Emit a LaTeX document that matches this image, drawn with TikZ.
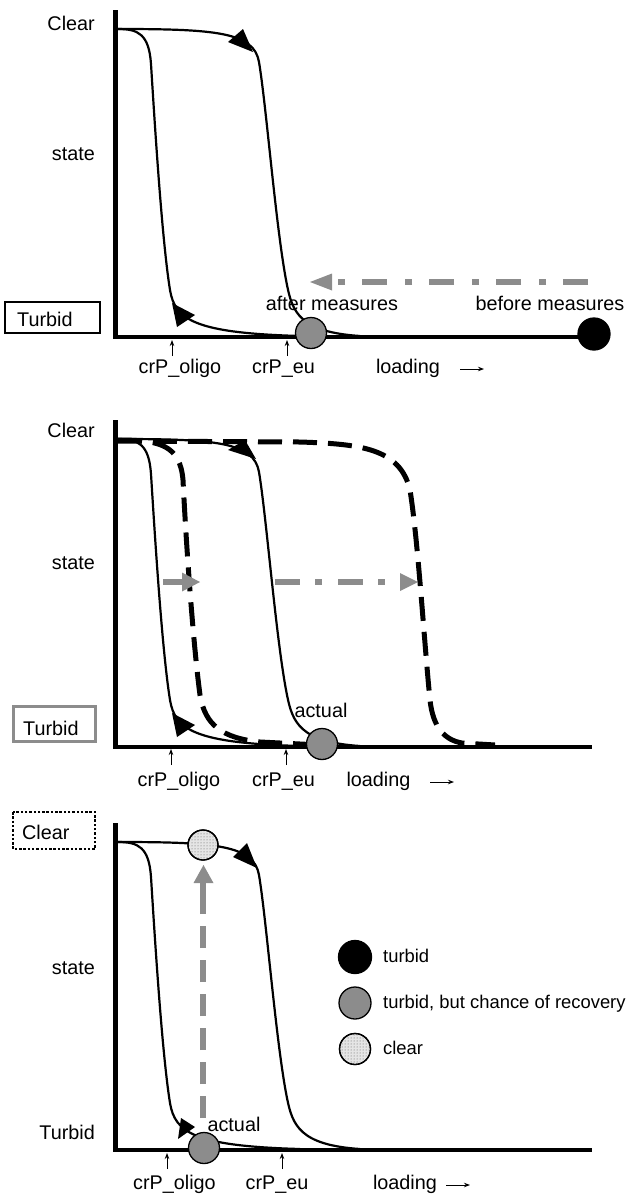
\documentclass[tikz,border=0pt]{standalone}
\usepackage{fontspec}
\setmainfont{Liberation Sans}
\usetikzlibrary{patterns,arrows.meta}
\definecolor{mgray}{RGB}{140,140,140}
\begin{document}
\begin{tikzpicture}[x=1pt,y=-1pt,
  font=\fontsize{19.8}{22}\selectfont,
  axisline/.style={line width=4.5pt},
  curveline/.style={line width=2.2pt},
  dcurve/.style={line width=5pt, dash pattern=on 24pt off 11pt},
  garrow/.style={draw=mgray, line width=5.5pt},
  dashdot/.style={garrow, dash pattern=on 25pt off 17pt on 7pt off 18pt},
  tickarrow/.style={line width=0.9pt, -{Stealth[length=6pt,width=4.5pt]}},
  dotnode/.style={circle, draw=black, line width=1.3pt, minimum size=31pt, inner sep=0pt},
  lbl/.style={inner sep=0pt, anchor=base},
  lbe/.style={inner sep=0pt, anchor=base east},
  lbw/.style={inner sep=0pt, anchor=base west},
  legend/.style={inner sep=0pt, anchor=base west, font=\fontsize{18.4}{21}\selectfont}
]
\useasboundingbox (0,0) rectangle (628,1197);

% ---------- common axes and curves ----------
\foreach \off in {0,410,813}{
  \begin{scope}[shift={(0,\off)}]
    \draw[curveline] (118,29) .. controls (138,29) and (149,34) .. (151,64)
       .. controls (155,128) and (162,240) .. (170,290)
       .. controls (175,320) and (195,333) .. (300,336);
    \draw[curveline] (118,29) .. controls (215,29) and (254,32) .. (259,62)
       .. controls (266.5,107) and (276,230) .. (287,285)
       .. controls (292.5,312.5) and (300,332) .. (360,336);
    \draw[axisline] (115.5,10) -- (115.5,337) -- (592,337);
  \end{scope}
}

% ================= Panel 1 =================
\node[lbe] (clear1) at (95,30) {Clear};
\node[lbe] (state1) at (95,160) {state};
\draw[line width=1.2pt] (5,302) rectangle (100,333);
\node[lbw] (turbid1) at (17,326) {Turbid};
\fill (253,52) -- (228,42) -- (243,29) -- cycle;
\fill (172,303) -- (177,327) -- (195,315) -- cycle;
\coordinate (p1from) at (588,282);
\coordinate (p1to) at (332,282);
\draw[dashdot] (p1from) -- (p1to);
\fill[mgray] (310,282) -- (332,273.5) -- (332,290.5) -- cycle;
\node[lbl] (after) at (332,310) {after measures};
\node[lbl] (before) at (550,310) {before measures};
\node[dotnode, fill=mgray] (g1) at (311,333) {};
\node[dotnode, fill=black, minimum size=32pt] (b1) at (594,334) {};
\coordinate (t1a) at (172,356); \coordinate (t1b) at (172,340);
\coordinate (t1c) at (287,356); \coordinate (t1d) at (287,340);
\draw[tickarrow] (t1a) -- (t1b);
\draw[tickarrow] (t1c) -- (t1d);
\node[lbl] (oligo1) at (180,373.5) {crP\_oligo};
\node[lbl] (eu1) at (283.5,373.5) {crP\_eu};
\node[lbl] (load1) at (408,373.5) {loading};
\coordinate (la1) at (460,369); \coordinate (lb1) at (484,369);
\draw[tickarrow] (la1) -- (lb1);

% ================= Panel 2 =================
\node[lbe] (clear2) at (95,437) {Clear};
\node[lbe] (state2) at (95,569) {state};
\draw[draw=mgray, line width=3pt] (13,706) rectangle (95,741);
\node[lbw] (turbid2) at (23,735) {Turbid};
% dashed curves
\draw[dcurve] (118,440) .. controls (160,440) and (180,445) .. (183,480)
   .. controls (187,560) and (194,650) .. (200,695)
   .. controls (205,725) and (222,738) .. (260,742) -- (320,745);
\draw[dcurve] (118,441) -- (300,442) .. controls (360,444) and (400,448) .. (410,490)
   .. controls (418,540) and (424,640) .. (430,700)
   .. controls (433,728) and (445,740) .. (462,743) -- (495,745);
\fill (228,450) -- (245,440) -- (256,459) -- cycle;
\fill (172,713) -- (177,737) -- (195,725) -- cycle;
% gray arrows
\coordinate (s2a) at (163,582); \coordinate (s2b) at (183,582);
\draw[garrow, line width=6.5pt] (s2a) -- (s2b);
\fill[mgray] (200,582) -- (182,572.5) -- (182,591.5) -- cycle;
\coordinate (d2a) at (275,582); \coordinate (d2b) at (400,582);
\draw[dashdot, dash pattern=on 25pt off 15pt on 7pt off 16pt] (d2a) -- (d2b);
\fill[mgray] (418,582) -- (400,573) -- (400,591) -- cycle;
\node[lbl] (actual2) at (321,717) {actual};
\node[dotnode, fill=mgray] (g2) at (322,744) {};
\coordinate (t2a) at (171,765); \coordinate (t2b) at (171,749);
\coordinate (t2c) at (286,765); \coordinate (t2d) at (286,749);
\draw[tickarrow] (t2a) -- (t2b);
\draw[tickarrow] (t2c) -- (t2d);
\node[lbl] (oligo2) at (179,786) {crP\_oligo};
\node[lbl] (eu2) at (283.5,786) {crP\_eu};
\node[lbl] (load2) at (378.5,786) {loading};
\coordinate (la2) at (430,782); \coordinate (lb2) at (454,782);
\draw[tickarrow] (la2) -- (lb2);

% ================= Panel 3 =================
\draw[line width=2.3pt, dash pattern=on 2.5pt off 1.8pt] (13,812) rectangle (95,849);
\node[lbw] (clear3) at (22,839) {Clear};
\node[lbe] (state3) at (95,974) {state};
\node[lbe] (turbid3) at (95,1139) {Turbid};
\fill (257,868) -- (233,857) -- (247,843) -- cycle;
\fill (178,1139) -- (181,1118) -- (195,1127) -- cycle;
\coordinate (v3a) at (203,1118); \coordinate (v3b) at (203,903); \coordinate (v3c) at (203,882);
\draw[garrow, line width=6pt, dash pattern=on 22pt off 12pt] (v3a) -- (v3b);
\draw[garrow, line width=6pt] (v3b) -- (v3c);
\fill[mgray] (203.5,865) -- (193.5,883) -- (213.5,883) -- cycle;
\node[dotnode, fill=gray!20, minimum size=30pt] (c3) at (203,845) {};
\fill[pattern=dots, pattern color=gray!70!black] (c3.center) circle (14pt);
\draw[line width=1.3pt] (c3.center) circle (15pt);
\node[dotnode, fill=mgray] (g3) at (204,1148) {};
\node[lbl] (actual3) at (234,1131) {actual};
\coordinate (t3a) at (167,1169); \coordinate (t3b) at (167,1153);
\coordinate (t3c) at (282,1169); \coordinate (t3d) at (282,1153);
\draw[tickarrow] (t3a) -- (t3b);
\draw[tickarrow] (t3c) -- (t3d);
\node[lbl] (oligo3) at (174.5,1189) {crP\_oligo};
\node[lbl] (eu3) at (277,1189) {crP\_eu};
\node[lbl] (load3) at (405,1189) {loading};
\coordinate (la3) at (446,1185); \coordinate (lb3) at (470,1185);
\draw[tickarrow] (la3) -- (lb3);

% legend
\node[dotnode, fill=black, minimum size=33pt] (lg1) at (355,957) {};
\node[legend] (lt1) at (383,962) {turbid};
\node[dotnode, fill=mgray, minimum size=32pt] (lg2) at (355,1003) {};
\node[legend] (lt2) at (383,1008.5) {turbid, but chance of recovery};
\node[dotnode, fill=gray!20, minimum size=31pt] (lg3) at (355,1049) {};
\fill[pattern=dots, pattern color=gray!70!black] (lg3.center) circle (14pt);
\draw[line width=1.3pt] (lg3.center) circle (15.5pt);
\node[legend] (lt3) at (383,1054.5) {clear};
\end{tikzpicture}
\end{document}
